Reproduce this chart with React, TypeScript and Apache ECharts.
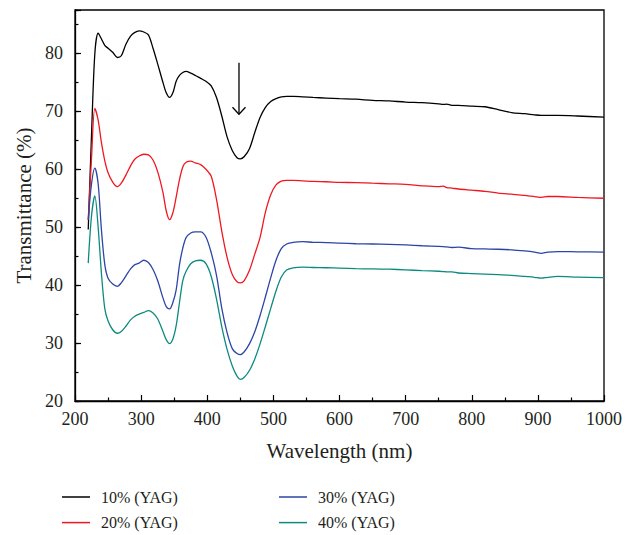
import React, { useEffect, useRef } from "react";
import * as echarts from "echarts";

const wavelengths = [220, 225, 230, 235, 240, 245, 250, 257, 264, 270, 277, 284, 290, 297, 304, 311, 318, 325, 333, 338, 343, 348, 353, 358, 363, 368, 375, 382, 390, 398, 406, 414, 422, 430, 438, 445, 450, 456, 464, 472, 480, 488, 496, 504, 512, 520, 530, 545, 560, 580, 600, 625, 650, 675, 700, 725, 750, 757, 762, 770, 780, 800, 820, 840, 860, 880, 895, 905, 915, 930, 960, 1000];

const yag10 = [49.6, 66, 80, 83.5, 82.5, 81.4, 80.9, 80.2, 79.3, 79.6, 81.6, 83.0, 83.6, 83.9, 83.7, 83.2, 80.9, 78.2, 75.0, 73.2, 72.4, 73.2, 75.2, 76.2, 76.7, 76.9, 76.6, 76.2, 75.7, 75.2, 74.4, 72.4, 69.2, 65.6, 63.2, 62.0, 61.8, 62.2, 63.6, 66.4, 69.0, 70.7, 71.7, 72.2, 72.5, 72.6, 72.6, 72.5, 72.4, 72.3, 72.2, 72.1, 71.9, 71.8, 71.6, 71.5, 71.3, 71.2, 71.25, 71.05, 71.05, 70.9, 70.8, 70.3, 69.8, 69.6, 69.4, 69.3, 69.3, 69.3, 69.2, 69.0];

const yag20 = [51.3, 62, 70.5, 68.5, 64.6, 61.5, 59.4, 57.8, 57.0, 57.6, 59.0, 60.6, 61.7, 62.3, 62.6, 62.5, 61.6, 59.6, 56.0, 52.8, 51.3, 52.5, 55.2, 58.2, 60.4, 61.2, 61.4, 61.1, 60.8, 60.0, 58.8, 54.8, 49.3, 44.8, 41.8, 40.6, 40.4, 40.8, 42.6, 45.4, 48.3, 52.6, 55.6, 57.3, 57.95, 58.1, 58.1, 58.0, 57.9, 57.85, 57.75, 57.7, 57.6, 57.5, 57.4, 57.15, 57.0, 57.1, 56.85, 56.75, 56.6, 56.4, 56.2, 55.9, 55.7, 55.5, 55.3, 55.15, 55.3, 55.3, 55.15, 55.0];

const yag30 = [51.3, 57.5, 60.2, 57.5, 49.5, 43.6, 41.2, 40.2, 39.8, 40.4, 41.6, 42.8, 43.5, 43.8, 44.3, 43.9, 42.7, 40.8, 37.8, 36.3, 35.9, 37.0, 39.2, 43.5, 46.4, 48.2, 49.0, 49.2, 49.2, 48.3, 45.6, 41.7, 36.0, 31.8, 29.0, 28.2, 28.0, 28.5, 29.9, 32.0, 34.8, 38.0, 41.3, 44.3, 46.3, 47.1, 47.4, 47.5, 47.4, 47.35, 47.25, 47.15, 47.1, 47.05, 46.95, 46.8, 46.7, 46.65, 46.6, 46.5, 46.55, 46.3, 46.25, 46.2, 46.1, 45.9, 45.7, 45.5, 45.7, 45.8, 45.75, 45.7];

const yag40 = [43.8, 52, 55.4, 50, 42, 36, 33.8, 32.3, 31.7, 32.0, 32.9, 34.0, 34.6, 35.0, 35.3, 35.6, 35.2, 34.2, 32.0, 30.6, 29.9, 30.7, 33.0, 37.0, 40.8, 42.4, 43.7, 44.2, 44.3, 43.7, 41.5, 37.6, 32.8, 28.9, 26.0, 24.3, 23.75, 24.1, 25.3, 27.3, 29.9, 32.9, 36.0, 39.0, 41.4, 42.6, 43.0, 43.1, 43.05, 43.0, 42.95, 42.85, 42.8, 42.75, 42.65, 42.5, 42.4, 42.35, 42.3, 42.3, 42.1, 42.0, 41.9, 41.8, 41.7, 41.5, 41.35, 41.2, 41.35, 41.5, 41.4, 41.3];

const seriesNames = ["10% (YAG)", "20% (YAG)", "30% (YAG)", "40% (YAG)"];
const seriesColors = ["#000000", "#f01820", "#2c45a6", "#0d8a80"];
const seriesValues = [yag10, yag20, yag30, yag40];

// arrow annotation (data coordinates)
const arrowX = 448;
const arrowTop = 78.4;
const arrowTip = 69.5;

const FONT = "'Liberation Serif', 'DejaVu Serif', serif";
const TXT = "#231f20";

export default function App() {
  const ref = useRef<HTMLDivElement>(null);
  useEffect(() => {
    document.body.style.margin = "0";
    if (!ref.current) return;
    const chart = echarts.init(ref.current, null, { renderer: "svg" });
    const series = seriesValues.map((vals, i) => ({
      name: seriesNames[i],
      type: "line",
      smooth: 0.3,
      symbol: "none",
      data: wavelengths.map((w, j) => [w, vals[j]]),
      lineStyle: { color: seriesColors[i], width: 1.3 },
      itemStyle: { color: seriesColors[i] },
      xAxisIndex: 0,
      yAxisIndex: 0,
    }));
    const legendCommon = {
      orient: "vertical",
      icon: "rect",
      itemWidth: 28,
      itemHeight: 1.5,
      itemGap: 9.6,
      padding: 0,
      top: 489,
      textStyle: { fontFamily: FONT, fontSize: 16, lineHeight: 16, color: TXT, padding: [0, 0, 0, 6] },
    };
    chart.setOption({
      animation: false,
      textStyle: { fontFamily: FONT },
      grid: {
        left: 75,
        right: 32,
        top: 10,
        bottom: 134,
        show: true,
        borderColor: "#000",
        borderWidth: 1.3,
        backgroundColor: "transparent",
      },
      legend: [
        { ...legendCommon, left: 62, data: [seriesNames[0], seriesNames[1]] },
        { ...legendCommon, left: 279, data: [seriesNames[2], seriesNames[3]] },
      ],
      xAxis: {
        type: "value",
        min: 200,
        max: 1000,
        interval: 100,
        name: "Wavelength (nm)",
        nameLocation: "middle",
        nameGap: 39,
        nameTextStyle: { fontFamily: FONT, fontSize: 21, color: TXT },
        axisLine: { show: true, lineStyle: { color: "#000", width: 1.3 } },
        axisTick: { show: true, inside: true, length: 6, lineStyle: { color: "#000", width: 1.2 } },
        minorTick: { show: true, splitNumber: 2, length: 3.5, lineStyle: { color: "#000", width: 1.2 } },
        axisLabel: { fontFamily: FONT, fontSize: 18, color: TXT, margin: 9, formatter: (v: number) => String(v) },
        splitLine: { show: false },
      },
      yAxis: [
        {
          type: "value",
          min: 20,
          max: 87.5,
          interval: 10,
          name: "Transmittance (%)",
          nameLocation: "middle",
          nameGap: 38,
          nameTextStyle: { fontFamily: FONT, fontSize: 21, color: TXT },
          axisLine: { show: true, lineStyle: { color: "#000", width: 1.3 } },
          axisTick: { show: true, inside: true, length: 6, lineStyle: { color: "#000", width: 1.2 } },
          axisLabel: {
            fontFamily: FONT,
            fontSize: 18,
            color: TXT,
            margin: 12,
            formatter: (v: number) => (v % 10 === 0 ? String(v) : ""),
          },
          splitLine: { show: false },
        },
        {
          type: "value",
          min: 20,
          max: 87.5,
          interval: 5,
          position: "left",
          axisLine: { show: false },
          axisTick: { show: true, inside: true, length: 3.5, lineStyle: { color: "#000", width: 1.2 } },
          axisLabel: { show: false },
          splitLine: { show: false },
        },
      ],
      series,
    });
    const top = chart.convertToPixel({ xAxisIndex: 0, yAxisIndex: 0 }, [arrowX, arrowTop]) as number[];
    const tip = chart.convertToPixel({ xAxisIndex: 0, yAxisIndex: 0 }, [arrowX, arrowTip]) as number[];
    chart.setOption({
      graphic: [
        {
          type: "line",
          shape: { x1: top[0], y1: top[1], x2: tip[0], y2: tip[1] },
          style: { stroke: "#000", lineWidth: 1.3 },
        },
        {
          type: "polyline",
          shape: { points: [[tip[0] - 6.5, tip[1] - 7], [tip[0], tip[1]], [tip[0] + 6.5, tip[1] - 7]] },
          style: { stroke: "#000", lineWidth: 1.3, fill: "none" },
        },
      ],
    });
    return () => chart.dispose();
  }, []);
  return <div ref={ref} style={{ width: 636, height: 535 }} />;
}
